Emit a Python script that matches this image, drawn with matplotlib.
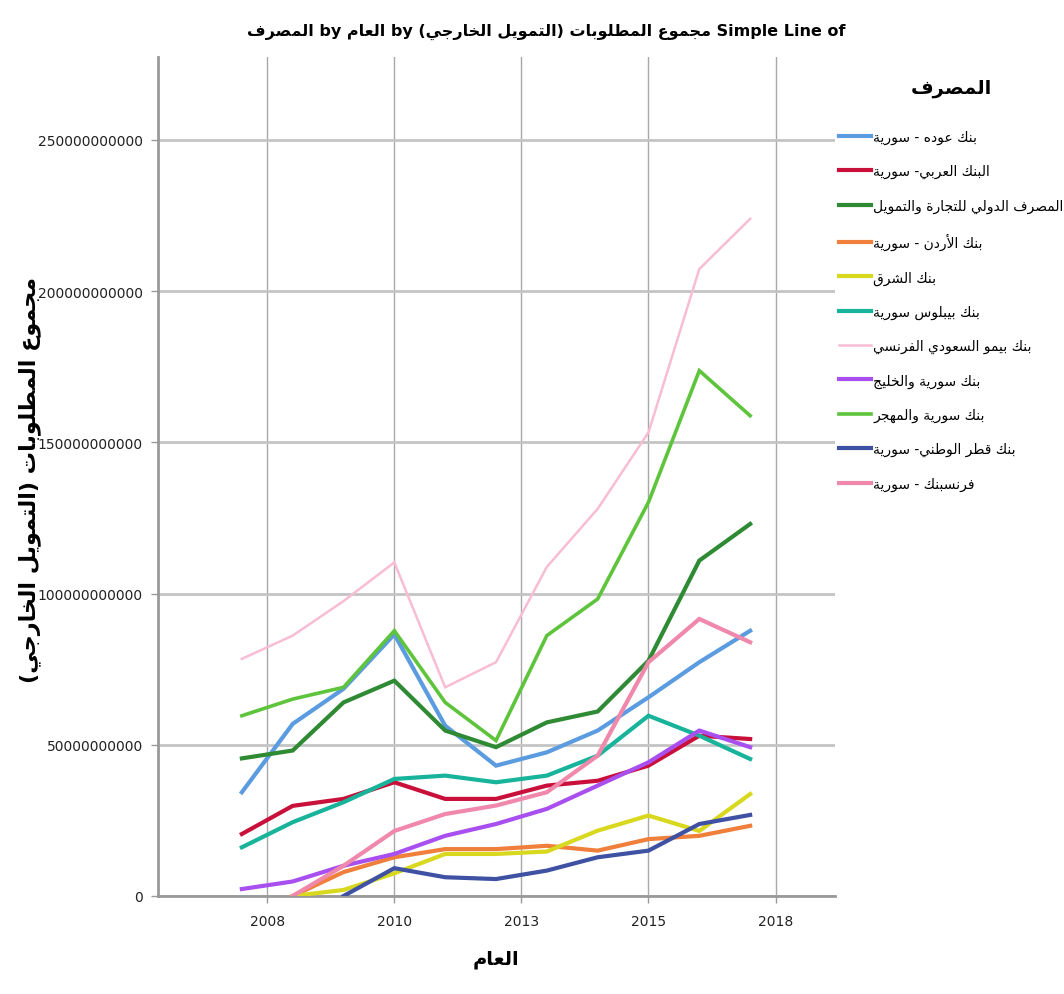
import matplotlib
matplotlib.use("Agg")
import matplotlib.pyplot as plt
from matplotlib import font_manager
from matplotlib.ticker import FuncFormatter
import numpy as np

# Arabic has to be shaped by hand: matplotlib has no shaping / bidi
FORMS = {
    "ا": ("\ufe8d", "\ufe8e", None, None),
    "أ": ("\ufe83", "\ufe84", None, None),
    "ب": ("\ufe8f", "\ufe90", "\ufe91", "\ufe92"),
    "ة": ("\ufe93", "\ufe94", None, None),
    "ت": ("\ufe95", "\ufe96", "\ufe97", "\ufe98"),
    "ج": ("\ufe9d", "\ufe9e", "\ufe9f", "\ufea0"),
    "ح": ("\ufea1", "\ufea2", "\ufea3", "\ufea4"),
    "خ": ("\ufea5", "\ufea6", "\ufea7", "\ufea8"),
    "د": ("\ufea9", "\ufeaa", None, None),
    "ر": ("\ufead", "\ufeae", None, None),
    "س": ("\ufeb1", "\ufeb2", "\ufeb3", "\ufeb4"),
    "ش": ("\ufeb5", "\ufeb6", "\ufeb7", "\ufeb8"),
    "ص": ("\ufeb9", "\ufeba", "\ufebb", "\ufebc"),
    "ط": ("\ufec1", "\ufec2", "\ufec3", "\ufec4"),
    "ع": ("\ufec9", "\ufeca", "\ufecb", "\ufecc"),
    "ف": ("\ufed1", "\ufed2", "\ufed3", "\ufed4"),
    "ق": ("\ufed5", "\ufed6", "\ufed7", "\ufed8"),
    "ك": ("\ufed9", "\ufeda", "\ufedb", "\ufedc"),
    "ل": ("\ufedd", "\ufede", "\ufedf", "\ufee0"),
    "م": ("\ufee1", "\ufee2", "\ufee3", "\ufee4"),
    "ن": ("\ufee5", "\ufee6", "\ufee7", "\ufee8"),
    "ه": ("\ufee9", "\ufeea", "\ufeeb", "\ufeec"),
    "و": ("\ufeed", "\ufeee", None, None),
    "ي": ("\ufef1", "\ufef2", "\ufef3", "\ufef4"),
}
LAM_ALEF = {"ا": ("\ufefb", "\ufefc"), "أ": ("\ufef7", "\ufef8")}
MIRROR = {"(": ")", ")": "("}


def dual(c):
    return c in FORMS and FORMS[c][2] is not None


def shape(s):
    out = []
    i = 0
    while i < len(s):
        c = s[i]
        if c not in FORMS:
            out.append(c)
            i += 1
            continue
        jp = i > 0 and dual(s[i - 1])
        if c == "ل" and i + 1 < len(s) and s[i + 1] in LAM_ALEF:
            iso, fin = LAM_ALEF[s[i + 1]]
            out.append(fin if jp else iso)
            i += 2
            continue
        jn = dual(c) and i + 1 < len(s) and s[i + 1] in FORMS
        iso, fin, ini, med = FORMS[c]
        out.append(med if jp and jn else fin if jp else ini if jn else iso)
        i += 1
    return "".join(out)


def ar(s):
    return "".join(MIRROR.get(c, c) for c in reversed(shape(s)))


names = {f.name for f in font_manager.fontManager.ttflist}
narrow = "Liberation Sans Narrow" in names
plt.rcParams["font.family"] = (["Liberation Sans Narrow", "DejaVu Sans"] if narrow
                               else ["DejaVu Sans"])

# data, in billions
years = list(range(2007, 2018))
nan = np.nan

banks = [
    "بنك عوده - سورية",
    "البنك العربي- سورية",
    "المصرف الدولي للتجارة والتمويل",
    "بنك الأردن - سورية",
    "بنك الشرق",
    "بنك بيبلوس سورية",
    "بنك بيمو السعودي الفرنسي",
    "بنك سورية والخليج",
    "بنك سورية والمهجر",
    "بنك قطر الوطني- سورية",
    "فرنسبنك - سورية",
]

audi = [34.3, 56.9, 68.5, 86.5, 56.3, 43.1, 47.5, 54.7, 65.7, 77.3, 87.7]
arab = [20.5, 29.8, 32.1, 37.6, 32.1, 32.1, 36.5, 38.1, 43.1, 53.0, 51.9]
ibtf = [45.5, 48.1, 64.0, 71.2, 54.7, 49.2, 57.4, 61.0, 77.8, 110.9, 123.0]
jordan = [nan, 0.0, 7.9, 12.8, 15.5, 15.5, 16.6, 15.0, 18.8, 19.9, 23.2]
sharq = [nan, 0.0, 2.0, 7.5, 13.9, 13.9, 14.7, 21.6, 26.6, 21.5, 33.7]
byblos = [16.1, 24.4, 31.0, 38.7, 39.8, 37.6, 39.8, 46.4, 59.6, 53.0, 45.3]
bemo = [78.4, 86.1, 97.5, 110.3, 69.0, 77.3, 108.8, 128.0, 153.3, 207.3, 223.9]
gulf = [2.3, 4.8, 10.0, 13.9, 19.9, 23.8, 28.8, 36.5, 44.2, 54.7, 49.2]
overseas = [59.6, 65.1, 69.0, 87.7, 64.0, 51.4, 86.1, 98.2, 130.2, 173.7, 158.8]
qnb = [nan, nan, 0.0, 9.2, 6.2, 5.6, 8.4, 12.8, 15.0, 23.8, 26.8]
fransa = [nan, 0.0, 10.0, 21.5, 27.1, 29.9, 34.3, 46.4, 77.3, 91.6, 83.9]

series = [audi, arab, ibtf, jordan, sharq, byblos, bemo, gulf, overseas, qnb, fransa]
colors = ["#5b9be0", "#c8103a", "#2f8a34", "#f07f3c", "#d8d81e", "#18b39b",
          "#f8bdd4", "#a94ff0", "#5ec43c", "#3f51a3", "#f088ac"]
widths = [3, 3, 3, 3, 3, 3, 1.8, 3, 2.6, 3, 3]

fig = plt.figure(figsize=(10.64, 9.95), dpi=100)
ax = fig.add_axes([0.1485, 0.0985, 0.6363, 0.8432])

for name, vals, c, lw in zip(banks, series, colors, widths):
    ax.plot(years, np.array(vals) * 1e9, color=c, lw=lw, label=ar(name),
            solid_joinstyle="miter", zorder=3)

ax.set_xlim(2005.35, 2018.67)
ax.set_ylim(0, 277.4e9)
ax.set_xticks([2007.5, 2010, 2012.5, 2015, 2017.5])
ax.set_xticklabels(["2008", "2010", "2013", "2015", "2018"])
ax.set_yticks(np.arange(0, 251e9, 50e9))
ax.yaxis.set_major_formatter(FuncFormatter(lambda v, p: "%d" % round(v)))

tick_fs = 12.5 if narrow else 10
ax.tick_params(axis="both", colors="#999999", labelcolor="#222222",
               labelsize=tick_fs, length=5, width=1)
ax.tick_params(axis="x", pad=8)
ax.tick_params(axis="y", pad=6)

ax.grid(axis="x", color="#a8a8a8", lw=1, zorder=1)
ax.grid(axis="y", color="#c4c4c4", lw=2, zorder=1)
for side in ["top", "right"]:
    ax.spines[side].set_visible(False)
for side in ["left", "bottom"]:
    ax.spines[side].set_color("#999999")
    ax.spines[side].set_linewidth(2)

fig.text(0.513, 0.968,
         ar("المصرف") + " by " + ar("العام") + " by "
         + ar("مجموع المطلوبات (التمويل الخارجي)") + " Simple Line of",
         ha="center", va="center", fontsize=11.5, fontweight="bold")
fig.text(0.028, 0.518, ar("مجموع المطلوبات (التمويل الخارجي)"),
         rotation=90, ha="center", va="center", fontsize=16, fontweight="bold")
fig.text(0.466, 0.036, ar("العام"), ha="center", va="center",
         fontsize=14, fontweight="bold")

leg = ax.legend(loc="upper left", bbox_to_anchor=(0.783, 0.927),
                bbox_transform=fig.transFigure, frameon=False,
                title=ar("المصرف"), fontsize=10, handlelength=2.3,
                handletextpad=0.2, labelspacing=1.45, borderaxespad=0)
leg.get_title().set_fontsize(14)
leg.get_title().set_fontweight("bold")
leg._legend_box.sep = 24

plt.savefig("out.png", dpi=100)
